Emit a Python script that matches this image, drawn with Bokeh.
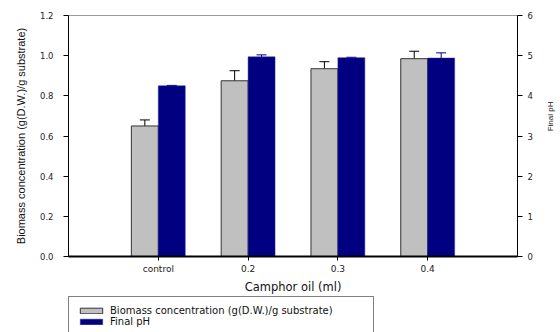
import math
from bokeh.plotting import figure
from bokeh.layouts import column, row
from bokeh.core.properties import value
from bokeh.models import (ColumnDataSource, FactorRange, Range1d, LinearAxis,
                          Whisker, TeeHead, Legend, LegendItem, FixedTicker)
from bokeh.transform import dodge
from bokeh.embed import file_html
from bokeh.resources import INLINE

# Camphor oil dose groups
doses = ["control", "0.2", "0.3", "0.4"]
# Biomass concentration, g(D.W.)/g substrate, with upper error
biomass = [0.65, 0.875, 0.935, 0.985]
biomass_err = [0.03, 0.05, 0.035, 0.037]
# Final pH with upper error
final_ph = [4.25, 4.97, 4.95, 4.94]
final_ph_err = [0.01, 0.05, 0.01, 0.13]

left_ticks = [0.0, 0.2, 0.4, 0.6, 0.8, 1.0, 1.2]
right_ticks = [0, 1, 2, 3, 4, 5, 6]

FONT = "Liberation Sans"
WIDE = "DejaVu Sans"
GRAY = "#c0c0c0"
GRAY_EDGE = "#333333"
NAVY = "#000080"
NAVY_EDGE = "#2a2aa0"

# page geometry (pixels)
CHART_W, CHART_H = 543, 296
STRIP_W = 17
TOP, BOTTOM, LEFT, RIGHT = 15, 40, 68, 26

src = ColumnDataSource(dict(
    dose=doses,
    biomass=biomass,
    biomass_top=[v + e for v, e in zip(biomass, biomass_err)],
    ph=final_ph,
    ph_top=[v + e for v, e in zip(final_ph, final_ph_err)],
))

p = figure(
    width=CHART_W, height=CHART_H,
    x_range=FactorRange(factors=doses, range_padding=0.5,
                        range_padding_units="absolute"),
    y_range=Range1d(0, 1.2),
    output_backend="svg", toolbar_location=None,
    min_border_left=LEFT, min_border_right=RIGHT,
    min_border_top=TOP, min_border_bottom=BOTTOM,
    background_fill_color="white", border_fill_color="white",
)
p.extra_y_ranges = {"ph": Range1d(0, 6)}

p.outline_line_color = "#9a9a9a"
p.outline_line_width = 1
p.xgrid.visible = False
p.ygrid.visible = False

bw = 0.3
p.vbar(x=dodge("dose", -bw / 2, range=p.x_range), top="biomass",
       width=bw, source=src, fill_color=GRAY,
       line_color=GRAY_EDGE, line_width=1)
p.vbar(x=dodge("dose", bw / 2, range=p.x_range), top="ph",
       width=bw, source=src, fill_color=NAVY,
       line_color=NAVY_EDGE, line_width=0.5, y_range_name="ph")

p.add_layout(Whisker(base=dodge("dose", -bw / 2, range=p.x_range),
                     lower="biomass", upper="biomass_top", source=src,
                     line_color="black", line_width=1,
                     upper_head=TeeHead(size=10, line_color="black", line_width=1),
                     lower_head=None))
p.add_layout(Whisker(base=dodge("dose", bw / 2, range=p.x_range),
                     lower="ph", upper="ph_top", source=src,
                     y_range_name="ph",
                     line_color=NAVY, line_width=1,
                     upper_head=TeeHead(size=10, line_color=NAVY, line_width=1),
                     lower_head=None))

# bottom axis
xa = p.xaxis[0]
xa.axis_label = "Camphor oil (ml)"
xa.axis_label_text_font = WIDE
xa.axis_label_text_font_size = "11.5px"
xa.axis_label_text_font_style = "normal"
xa.axis_label_text_color = "#111111"
xa.axis_label_standoff = 3
xa.major_label_text_font = WIDE
xa.major_label_text_font_size = "9px"
xa.major_label_text_color = "#222222"
xa.major_label_standoff = 3
xa.axis_line_width = 2
xa.axis_line_color = "black"
xa.major_tick_in = 0
xa.major_tick_out = 4
xa.major_tick_line_color = "black"
xa.group_text_font_size = "0px"

# left axis
ya = p.yaxis[0]
ya.ticker = FixedTicker(ticks=left_ticks)
ya.major_label_overrides = {t: f"{t:.1f}" for t in left_ticks}
ya.axis_label = "Biomass concentration (g(D.W.)/g substrate)"
ya.axis_label_text_font = FONT
ya.axis_label_text_font_size = "11px"
ya.axis_label_text_font_style = "normal"
ya.axis_label_text_color = "#111111"
ya.axis_label_standoff = 10
ya.major_label_text_font = WIDE
ya.major_label_text_font_size = "8.5px"
ya.major_label_text_color = "#222222"
ya.major_label_standoff = 10
ya.axis_line_color = "black"
ya.major_tick_in = 0
ya.major_tick_out = 5
ya.minor_tick_line_color = None

# right axis for pH (its title is drawn in the strip to the right)
ra = LinearAxis(y_range_name="ph", ticker=FixedTicker(ticks=right_ticks))
ra.major_label_text_font = WIDE
ra.major_label_text_font_size = "8.5px"
ra.major_label_text_color = "#222222"
ra.major_label_standoff = 5
ra.axis_line_color = "black"
ra.major_tick_in = 0
ra.major_tick_out = 5
ra.minor_tick_line_color = None
p.add_layout(ra, "right")

# narrow strip carrying the "Final pH" title, reading upwards
strip = figure(
    width=STRIP_W, height=CHART_H,
    x_range=Range1d(0, STRIP_W), y_range=Range1d(0, CHART_H),
    output_backend="svg", toolbar_location=None,
    x_axis_location=None, y_axis_location=None,
    min_border=0, outline_line_color=None,
    background_fill_color="white", border_fill_color="white",
)
strip.xgrid.visible = False
strip.ygrid.visible = False
title_y = CHART_H - 124
strip.text(x=[7], y=[title_y], text=["Final pH"], angle=math.pi / 2,
           text_font=value(FONT), text_font_size="8px", text_color="#111111",
           text_align="center", text_baseline="middle")

# legend strip under the chart
leg = figure(
    width=CHART_W + STRIP_W, height=36,
    x_range=Range1d(0, 1), y_range=Range1d(0, 1),
    output_backend="svg", toolbar_location=None,
    x_axis_location=None, y_axis_location=None,
    min_border_left=LEFT, min_border_right=0,
    min_border_top=0, min_border_bottom=0,
    outline_line_color=None,
    background_fill_color="white", border_fill_color="white",
)
leg.xgrid.visible = False
leg.ygrid.visible = False
# key renderers sit outside the visible range; only their legend swatches show
offscreen = ColumnDataSource(dict(x=[5], top=[5]))
key_gray = leg.vbar(x="x", top="top", width=0.1, source=offscreen,
                    fill_color=GRAY, line_color=GRAY_EDGE, line_width=1)
key_navy = leg.vbar(x="x", top="top", width=0.1, source=offscreen,
                    fill_color=NAVY, line_color=NAVY_EDGE, line_width=0.5)

legend = Legend(
    items=[
        LegendItem(label="Biomass concentration (g(D.W.)/g substrate)",
                   renderers=[key_gray]),
        LegendItem(label="Final pH", renderers=[key_navy]),
    ],
    location=(0, -4),
    orientation="vertical",
    label_text_font=WIDE,
    label_text_font_size="10px",
    label_text_color="#111111",
    glyph_width=28, glyph_height=7,
    label_height=11, label_width=255,
    spacing=0, padding=8, margin=0,
    border_line_color="black", border_line_width=1,
    background_fill_alpha=1.0,
)
leg.add_layout(legend, "center")

page = column(row(p, strip, spacing=0), leg, spacing=0)
open("out.html", "w").write(file_html(page, INLINE))
